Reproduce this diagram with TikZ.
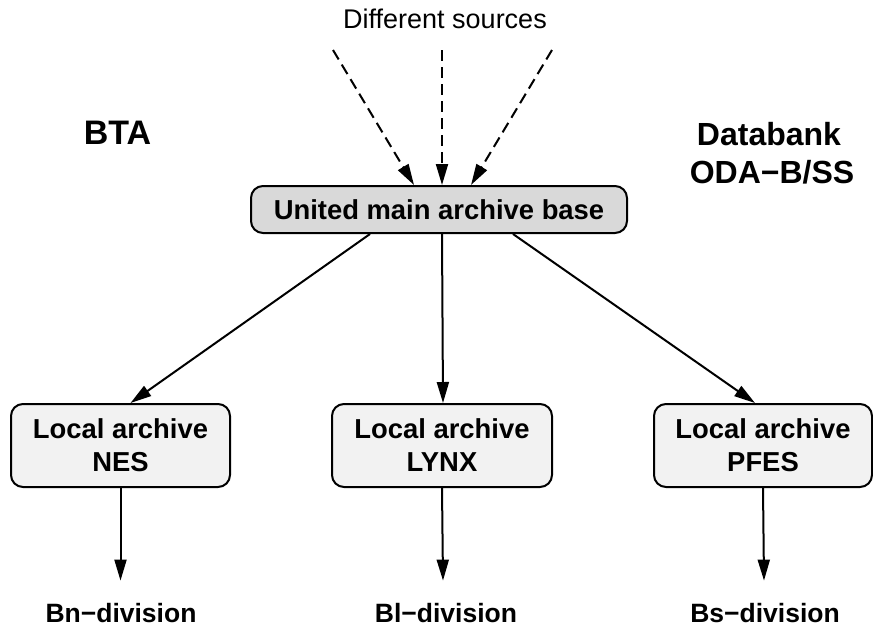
\documentclass[tikz,border=0pt]{standalone}
\usepackage{fontspec}
\setmainfont{Liberation Sans}
\usetikzlibrary{arrows.meta}
\definecolor{mainfill}{HTML}{D9D9D9}
\definecolor{localfill}{HTML}{F2F2F2}
\begin{document}
\begin{tikzpicture}[x=1pt,y=-1pt,
  box/.style={draw, line width=2pt, rounded corners=12pt, align=center, inner sep=0pt,
    font=\bfseries\fontsize{27.4}{33}\selectfont},
  arr/.style={line width=2pt, -{Triangle[length=21pt,width=12pt]}},
  dsh/.style={arr, dash pattern=on 11pt off 6pt},
  lbl/.style={font=\bfseries\fontsize{26.5}{33}\selectfont, anchor=base, inner sep=0pt},
  big/.style={font=\bfseries\fontsize{32}{38}\selectfont, anchor=base, inner sep=0pt}]
\useasboundingbox (0,0) rectangle (873,630);
\fill[white] (0,0) rectangle (873,630);

\node[font=\fontsize{27}{33}\selectfont, anchor=base, inner sep=0pt] (src) at (445,28) {Different sources};
\node[big, font=\bfseries\fontsize{34}{40}\selectfont] (bta) at (117.5,144) {BTA};
\node[big] (db1) at (769,145) {Databank};
\node[big] (db2) at (772,183) {ODA−B/SS};

\node[box, fill=mainfill, minimum width=376pt, minimum height=47pt] (main) at (439,209.5) {United main archive base};

\node[box, fill=localfill, minimum width=219pt, minimum height=83pt] (nes) at (120.5,445.5) {Local archive\\NES};
\node[box, fill=localfill, minimum width=220pt, minimum height=83pt] (lynx) at (442,445.5) {Local archive\\LYNX};
\node[box, fill=localfill, minimum width=218pt, minimum height=83pt] (pfes) at (763,445.5) {Local archive\\PFES};

\node[lbl] (bn) at (121,622) {Bn−division};
\node[lbl] (bl) at (446,622) {Bl−division};
\node[lbl] (bs) at (765,622) {Bs−division};

\coordinate (s1) at (333,50);
\coordinate (s2) at (442,50);
\coordinate (s3) at (552,50);

\draw[dsh] (s1) -- ([xshift=-25pt]main.north);
\draw[dsh] (s2) -- ([xshift=3pt]main.north);
\draw[dsh] (s3) -- ([xshift=32pt]main.north);

\draw[arr] ([xshift=-69pt]main.south) -- ([xshift=10pt]nes.north);
\draw[arr] ([xshift=3pt]main.south) -- ([xshift=1pt]lynx.north);
\draw[arr] ([xshift=74pt]main.south) -- ([xshift=-8pt]pfes.north);

\draw[arr] (nes.south) -- ([xshift=-0.5pt,yshift=22pt]bn.north);
\draw[arr] (lynx.south) -- ([xshift=-3pt,yshift=22pt]bl.north);
\draw[arr] (pfes.south) -- ([xshift=-1pt,yshift=22pt]bs.north);
\end{tikzpicture}
\end{document}
